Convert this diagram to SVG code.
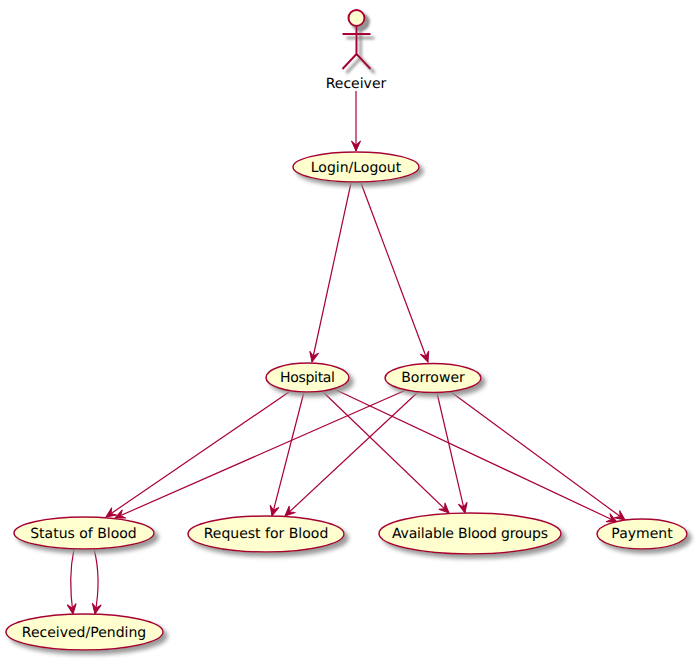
<svg xmlns="http://www.w3.org/2000/svg" width="697" height="660" viewBox="0 0 697 660">
<defs>
<filter id="sh" x="-30%" y="-50%" width="160%" height="200%"><feGaussianBlur in="SourceAlpha" stdDeviation="2" result="b"/><feOffset in="b" dx="4" dy="4" result="o"/><feComponentTransfer in="o" result="g"><feFuncR type="linear" slope="0" intercept="0.3"/><feFuncG type="linear" slope="0" intercept="0.3"/><feFuncB type="linear" slope="0" intercept="0.3"/><feFuncA type="linear" slope="0.95"/></feComponentTransfer><feMerge><feMergeNode in="g"/><feMergeNode in="SourceGraphic"/></feMerge></filter>
<filter id="sha" x="-40%" y="-20%" width="180%" height="140%"><feGaussianBlur in="SourceAlpha" stdDeviation="1.4" result="b"/><feOffset in="b" dx="4" dy="4" result="o"/><feComponentTransfer in="o" result="g"><feFuncR type="linear" slope="0" intercept="0.3"/><feFuncG type="linear" slope="0" intercept="0.3"/><feFuncB type="linear" slope="0" intercept="0.3"/><feFuncA type="linear" slope="1.3"/></feComponentTransfer><feMerge><feMergeNode in="g"/><feMergeNode in="SourceGraphic"/></feMerge></filter>
<marker id="arr" viewBox="-12 -7 14 14" refX="0" refY="0" markerWidth="14" markerHeight="14" markerUnits="userSpaceOnUse" orient="auto"><path d="M0,0L-10,-4.5L-6,0L-10,4.5Z" fill="#A80036" stroke="#A80036" stroke-width="1"/></marker>
</defs>
<style>
.n ellipse{fill:#FEFECE;stroke:#A80036;stroke-width:1.5;filter:url(#sh)}
.a{fill:none;stroke:#A80036;stroke-width:2}
text{font-family:"DejaVu Sans",sans-serif;font-size:14px;text-anchor:middle;fill:#000;text-rendering:geometricPrecision}
#connectors path{fill:none;stroke:#A80036;stroke-width:1.2;marker-end:url(#arr)}
</style>
<g id="connectors">
<path d="M356,91L356,151"/>
<path d="M351,183L312,362"/>
<path d="M361,183L428,362"/>
<path d="M289,392L106,517"/>
<path d="M304,392L272,516"/>
<path d="M322,391L449,513"/>
<path d="M334,389L617,522"/>
<path d="M406,390L115,518"/>
<path d="M418,392L285,516"/>
<path d="M437,393L465,513"/>
<path d="M451,392L625,520"/>
<path d="M74,549C70,568 70,592 73,614"/>
<path d="M94,549C99,568 99,592 95,614"/>
</g>
<g id="receiver">
<g class="a" filter="url(#sha)"><circle cx="356.5" cy="18" r="8" fill="#FEFECE"/><path d="M356.5,26V54M342.5,34H370.5M356.5,54L342.5,69M356.5,54L370.5,69"/></g>
<text x="356" y="88">Receiver</text>
</g>
<g id="login" class="n"><ellipse cx="356" cy="167" rx="63" ry="15"/><text x="356" y="172">Login/Logout</text></g>
<g id="hospital" class="n"><ellipse cx="307.5" cy="377.5" rx="41.5" ry="14.5"/><text x="307.5" y="382" textLength="55">Hospital</text></g>
<g id="borrower" class="n"><ellipse cx="433" cy="378" rx="48" ry="14.5"/><text x="433" y="382">Borrower</text></g>
<g id="status" class="n"><ellipse cx="84" cy="533" rx="70" ry="16"/><text x="83.5" y="538">Status of Blood</text></g>
<g id="request" class="n"><ellipse cx="266" cy="534" rx="78" ry="18"/><text x="266" y="538">Request for Blood</text></g>
<g id="available" class="n"><ellipse cx="470" cy="533.5" rx="91" ry="20.5"/><text x="470" y="538" textLength="156">Available Blood groups</text></g>
<g id="payment" class="n"><ellipse cx="642" cy="534" rx="45" ry="15"/><text x="642" y="538">Payment</text></g>
<g id="received" class="n"><ellipse cx="84.5" cy="632" rx="78.5" ry="18"/><text x="84" y="637">Received/Pending</text></g>
</svg>
